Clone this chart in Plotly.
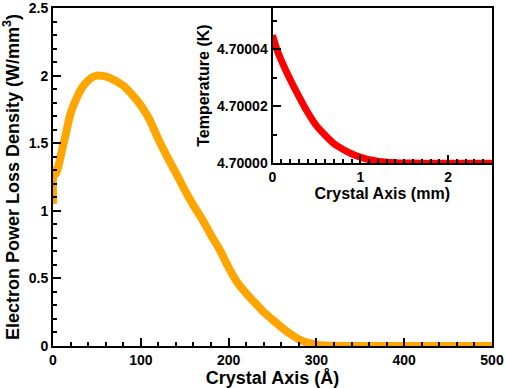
import plotly.graph_objects as go

# Main curve: electron power loss density vs crystal axis (Å)
depth_A = [0, 0.5, 3, 5, 8, 11, 14, 17, 20, 24, 28, 33, 38, 44, 50, 56, 62, 70, 80, 90,
           100, 110, 120, 130, 140, 150, 160, 170, 180, 190, 200, 210, 220, 230, 240,
           250, 260, 270, 280, 290, 300, 310, 320, 340, 400, 500]
power_density = [1.05, 1.30, 1.27, 1.30, 1.38, 1.47, 1.55, 1.64, 1.72, 1.79, 1.85, 1.91,
                 1.95, 1.985, 2.0, 1.998, 1.99, 1.965, 1.925, 1.86,
                 1.78, 1.675, 1.53, 1.40, 1.28, 1.155, 1.04, 0.935, 0.82, 0.71, 0.58,
                 0.47, 0.39, 0.32, 0.25, 0.195, 0.14, 0.09, 0.05, 0.025, 0.01, 0.003,
                 0.001, 0.0, 0.0, 0.0]

# Inset: temperature vs crystal axis (mm)
axis_mm = [0, 0.05, 0.1, 0.2, 0.3, 0.4, 0.5, 0.6, 0.7, 0.8, 0.9, 1.0, 1.1, 1.2, 1.3,
           1.4, 1.5, 1.7, 2.0, 2.5]
temperature_K = [4.7000450, 4.7000400, 4.7000362, 4.7000295, 4.7000235, 4.7000179,
                 4.7000132, 4.7000098, 4.7000068, 4.7000049, 4.7000033, 4.7000021,
                 4.7000012, 4.7000007, 4.70000035, 4.70000015, 4.70000005, 4.7000000,
                 4.7000000, 4.7000000]

main_xticks = [0, 100, 200, 300, 400, 500]
main_yticks = [0, 0.5, 1, 1.5, 2, 2.5]
main_yticklabels = ["0", "0.5", "1", "1.5", "2", "2.5"]
inset_xticks = [0, 1, 2]
inset_yticks = [4.70000, 4.70002, 4.70004]
inset_yticklabels = ["4.70000", "4.70002", "4.70004"]

X_RANGE = [0, 500]
Y_RANGE = [0, 2.5]
X2_RANGE = [0, 2.5]
Y2_RANGE = [4.7, 4.7000546]

FONT = "Liberation Sans"
CLEAR = "rgba(0,0,0,0)"
fig = go.Figure()
fig.add_trace(go.Scatter(x=depth_A, y=power_density, mode="lines",
                         line=dict(color="#FFA500", width=8, shape="spline", smoothing=0.5),
                         xaxis="x", yaxis="y", showlegend=False))
fig.add_trace(go.Scatter(x=axis_mm, y=temperature_K, mode="lines",
                         line=dict(color="#FF0000", width=7, shape="spline", smoothing=0.5),
                         xaxis="x2", yaxis="y2", showlegend=False))

tickfont = dict(family=FONT, size=14, color="black", weight="bold")
titlefont = dict(family=FONT, size=18, color="black", weight="bold")
insettitlefont = dict(family=FONT, size=16, color="black", weight="bold")

base = dict(gridcolor=CLEAR, zerolinecolor=CLEAR, automargin=False,
            ticklabeloverflow="allow")
major_len, major_w = 8, 2


def minor_ticks(vals=None, length=4, width=1.5, dtick=None, tick0=0):
    m = dict(ticks="inside", ticklen=length, tickwidth=width, tickcolor="black",
             gridcolor=CLEAR)
    if vals is not None:
        m.update(tickmode="array", tickvals=vals)
    else:
        m.update(dtick=dtick, tick0=tick0)
    return m


def tick_axis(rng, vals=None, length=4, width=1.5, dtick=None, tick0=0, **kw):
    """Overlay axis that only draws one row of inside ticks."""
    return dict(range=rng, tickmode="array", tickvals=[-1e9], ticks="inside",
                ticklen=1, tickcolor="black", showticklabels=False, showline=False,
                minor=minor_ticks(vals, length, width, dtick, tick0), **base, **kw)


major_style = dict(ticks="inside", ticklen=major_len, tickwidth=major_w, tickcolor="black")

fig.update_layout(
    width=505, height=388,
    margin=dict(l=53, r=13, t=8, b=42),
    paper_bgcolor="white", plot_bgcolor="white",
    showlegend=False,
    # ---- main axes (labels + minor ticks) ----
    xaxis=dict(domain=[0, 1], range=X_RANGE, tickmode="array", tickvals=main_xticks,
               ticktext=[str(v) for v in main_xticks], **major_style,
               minor=minor_ticks(dtick=20),
               showline=True, linewidth=2, linecolor="black", mirror=True,
               tickfont=tickfont, anchor="y",
               title=dict(text="Crystal Axis (Å)", font=titlefont, standoff=3), **base),
    yaxis=dict(domain=[0, 1], range=Y_RANGE, tickmode="array", tickvals=main_yticks,
               ticktext=main_yticklabels, **major_style,
               minor=minor_ticks(dtick=0.1),
               showline=True, linewidth=2, linecolor="black", mirror=True,
               tickfont=tickfont, anchor="x",
               title=dict(text="Electron Power Loss Density (W/mm<sup>3</sup>)",
                          font=titlefont, standoff=5), **base),
    # main: major ticks bottom, top ticks, left majors, right ticks
    xaxis3=tick_axis(X_RANGE, vals=main_xticks, length=major_len, width=major_w,
                     overlaying="x", anchor="y", side="bottom"),
    xaxis4=tick_axis(X_RANGE, vals=[v for v in range(10, 250, 10) if v % 100 != 0],
                     overlaying="x", anchor="y", side="top"),
    xaxis5=tick_axis(X_RANGE, vals=[100, 200], length=major_len, width=major_w,
                     overlaying="x", anchor="y", side="top"),
    yaxis3=tick_axis(Y_RANGE, vals=main_yticks, length=major_len, width=major_w,
                     overlaying="y", anchor="x", side="left"),
    yaxis4=tick_axis(Y_RANGE, dtick=0.1, tick0=0,
                     overlaying="y", anchor="x", side="right"),
    yaxis5=tick_axis(Y_RANGE, vals=main_yticks, length=major_len, width=major_w,
                     overlaying="y", anchor="x", side="right"),
    # ---- inset axes ----
    xaxis2=dict(domain=[0.5, 1], anchor="y2", range=X2_RANGE, tickmode="array",
                tickvals=inset_xticks, ticktext=[str(v) for v in inset_xticks],
                **major_style, minor=minor_ticks(dtick=0.1),
                showline=True, linewidth=2, linecolor="black", mirror=False,
                tickfont=tickfont,
                title=dict(text="Crystal Axis (mm)", font=insettitlefont, standoff=0),
                **base),
    yaxis2=dict(domain=[0.541, 1], anchor="x2", range=Y2_RANGE, tickmode="array",
                tickvals=inset_yticks, ticktext=inset_yticklabels, **major_style,
                minor=minor_ticks(vals=[4.70001, 4.70003, 4.70005]),
                showline=True, linewidth=2, linecolor="black", mirror=False,
                tickfont=tickfont,
                title=dict(text="Temperature (K)", font=insettitlefont, standoff=3),
                **base),
    xaxis6=tick_axis(X2_RANGE, vals=inset_xticks, length=major_len, width=major_w,
                     overlaying="x2", anchor="y2", side="bottom"),
    xaxis7=tick_axis(X2_RANGE, dtick=0.1, tick0=0,
                     overlaying="x2", anchor="y2", side="top"),
    xaxis8=tick_axis(X2_RANGE, vals=[1, 2], length=major_len, width=major_w,
                     overlaying="x2", anchor="y2", side="top"),
    yaxis6=tick_axis(Y2_RANGE, vals=inset_yticks, length=major_len, width=major_w,
                     overlaying="y2", anchor="x2", side="left"),
)

fig.write_html("out.html", config={"displayModeBar": False},
               post_script="document.body.style.margin='0';document.body.style.padding='0';")
